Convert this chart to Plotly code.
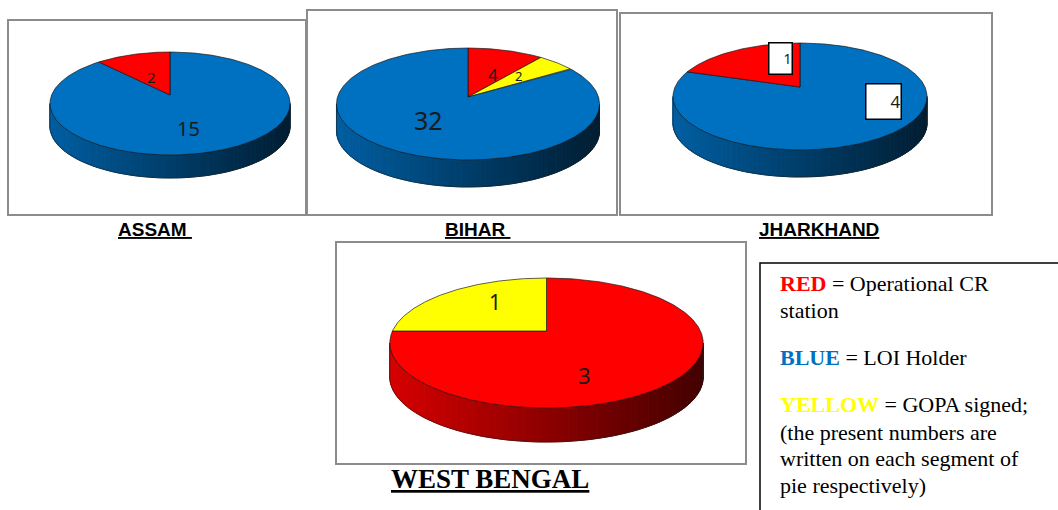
import numpy as np
import plotly.graph_objects as go

# ---------------- data ----------------
states = ["ASSAM", "BIHAR", "JHARKHAND", "WEST BENGAL"]
assam_cats = ["BLUE", "RED"]
assam_vals = [15, 2]
bihar_cats = ["RED", "YELLOW", "BLUE"]
bihar_vals = [4, 2, 32]
jharkhand_cats = ["BLUE", "RED"]
jharkhand_vals = [4, 1]
wb_cats = ["RED", "YELLOW"]
wb_vals = [3, 1]

legend_keys = ["RED", "BLUE", "YELLOW"]
legend_desc = ["Operational CR station", "LOI Holder", "GOPA signed"]

# ---------------- style ----------------
W, H = 1058, 510
colors = {"RED": (255, 0, 0), "BLUE": (0, 112, 192), "YELLOW": (255, 255, 0)}
txt_colors = {"RED": "#ff0000", "BLUE": "#0070c0", "YELLOW": "#ffff00"}

# cx, ya: projected centre; rx: half-width of the centre chord; R: vertical radius; e: perspective
pies = [
    dict(cats=assam_cats, vals=assam_vals, cx=170, ya=95, rx=118.4, R=50.1, e=0.165, depth=23,
         box=(8, 20, 306, 215), title_xy=(155, 229), boxed=False,
         lab=[dict(size=20, dx=-5, dy=8), dict(size=15, dx=1, dy=4)]),
    dict(cats=bihar_cats, vals=bihar_vals, cx=468, ya=97, rx=130.5, R=55.1, e=0.125, depth=27,
         box=(307, 10, 617, 215), title_xy=(477, 229), boxed=False,
         lab=[dict(size=17, dx=5, dy=2), dict(size=13, dx=4, dy=-3), dict(size=25, dx=-7, dy=-3)]),
    dict(cats=jharkhand_cats, vals=jharkhand_vals, cx=800, ya=87, rx=125, R=51.8, e=0.1776, depth=27,
         box=(620, 13, 992, 215), title_xy=(819, 229), boxed=True,
         lab=[dict(size=17, dx=44, dy=-8, w=34, h=34), dict(size=14, dx=15, dy=-9, w=22, h=30)]),
    dict(cats=wb_cats, vals=wb_vals, cx=546.5, ya=331, rx=154, R=62.8, e=0.1846, depth=34,
         box=(336, 242, 746, 464), title_xy=(490, 479), boxed=False,
         lab=[dict(size=22, dx=-20, dy=20), dict(size=21, dx=0, dy=-8)]),
]


def proj(p, r, th, dy=0.0):
    t = np.radians(th)
    u, v = r * np.sin(t), r * np.cos(t)
    s = 1.0 / (1.0 + p["e"] * v)
    return p["cx"] + p["rx"] * u * s, p["ya"] - p["R"] * v * s + dy


def shade(rgb, f):
    return "rgb(%d,%d,%d)" % tuple(int(round(c * f)) for c in rgb)


fig = go.Figure()
shapes = []
annotations = []

for p in pies:
    vals = np.array(p["vals"], dtype=float)
    ang = np.concatenate([[0], np.cumsum(vals) / vals.sum() * 360])

    def cat_at(th):
        th = th % 360
        for i in range(len(vals)):
            if ang[i] <= th < ang[i + 1]:
                return p["cats"][i]
        return p["cats"][-1]

    # side band (visible front part) with a horizontal gradient
    a0 = np.degrees(np.arccos(-p["e"]))
    a1 = 360 - a0
    xmin = proj(p, 1, a1)[0]
    xmax = proj(p, 1, a0)[0]
    N = 70
    edges = np.linspace(a0, a1, N + 1)
    for a, b in zip(edges[:-1], edges[1:]):
        ts = np.linspace(a, b, 4)
        xt, yt = proj(p, 1, ts)
        xb, yb = proj(p, 1, ts[::-1], p["depth"])
        xs = np.concatenate([xt, xb, xt[:1]])
        ys = np.concatenate([yt, yb, yt[:1]])
        xm = proj(p, 1, (a + b) / 2)[0]
        t = (xm - xmin) / (xmax - xmin)
        f = 0.84 - 0.58 * t
        col = shade(colors[cat_at((a + b) / 2)], f)
        fig.add_trace(go.Scatter(x=xs, y=ys, fill="toself", fillcolor=col, mode="lines",
                                 line=dict(color=col, width=1), hoverinfo="skip", showlegend=False))
    # side outline
    ts = np.linspace(a0, a1, 120)
    xb, yb = proj(p, 1, ts, p["depth"])
    xl, yl = proj(p, 1, np.array([a0]))
    xr, yr = proj(p, 1, np.array([a1]))
    fig.add_trace(go.Scatter(x=np.concatenate([xl, xb, xr]),
                             y=np.concatenate([yl, yb, yr]), mode="lines",
                             line=dict(color="rgba(30,30,30,0.7)", width=0.8),
                             hoverinfo="skip", showlegend=False))

    # top face slices
    for i, c in enumerate(p["cats"]):
        ts = np.linspace(ang[i], ang[i + 1], max(8, int((ang[i + 1] - ang[i]) * 1.5)))
        x, y = proj(p, 1, ts)
        xs = np.concatenate([[p["cx"]], x, [p["cx"]]])
        ys = np.concatenate([[p["ya"]], y, [p["ya"]]])
        fig.add_trace(go.Scatter(x=xs, y=ys, fill="toself", fillcolor=shade(colors[c], 1.0),
                                 mode="lines", line=dict(color="rgba(20,20,20,0.85)", width=0.8),
                                 hoverinfo="skip", showlegend=False))

    # value labels
    for i, c in enumerate(p["cats"]):
        mid = (ang[i] + ang[i + 1]) / 2
        L = p["lab"][i]
        lx, ly = proj(p, 0.5, mid)
        ann = dict(x=lx + L["dx"], y=ly + L["dy"], xref="x", yref="y", text=str(p["vals"][i]),
                   showarrow=False,
                   font=dict(family="Noto Sans, Liberation Sans, sans-serif", size=L["size"], color="#1a1a1a"),
                   xanchor="center", yanchor="middle")
        if p["boxed"]:
            ann.update(bgcolor="white", bordercolor="black", borderwidth=1.5,
                       width=L["w"], height=L["h"], align="right", valign="middle", borderpad=0)
        annotations.append(ann)

    # frame
    x0, y0, x1, y1 = p["box"]
    shapes.append(dict(type="rect", xref="x", yref="y", x0=x0, y0=y0, x1=x1, y1=y1,
                       line=dict(color="#8c8c8c", width=2), fillcolor="rgba(0,0,0,0)", layer="below"))

# titles
for name, p in zip(states, pies):
    tx, ty = p["title_xy"]
    if name == "WEST BENGAL":
        font = dict(family="Liberation Serif, Times New Roman, serif", size=27, color="black",
                    weight="bold", lineposition="under")
        text = name
    else:
        font = dict(family="Liberation Sans, Arial, sans-serif", size=19, color="black",
                    weight="bold", lineposition="under")
        text = name + ("\u00a0" if name != "JHARKHAND" else "")
    annotations.append(dict(x=tx, y=ty, xref="x", yref="y", text=text, showarrow=False,
                            font=font, xanchor="center", yanchor="middle"))

# legend box
shapes.append(dict(type="rect", xref="x", yref="y", x0=760, y0=263, x1=1062, y1=515,
                   line=dict(color="black", width=1.5), fillcolor="rgba(0,0,0,0)"))


def key(k):
    return "<b><span style='color:%s'>%s</span></b>" % (txt_colors[k], k)


legend_lines = [
    (283, key(legend_keys[0]) + " = " + legend_desc[0].rsplit(" ", 1)[0]),
    (310, legend_desc[0].rsplit(" ", 1)[1]),
    (357, key(legend_keys[1]) + " = " + legend_desc[1]),
    (404, key(legend_keys[2]) + " = " + legend_desc[2] + ";"),
    (432, "(the present numbers are"),
    (458, "written on each segment of"),
    (485, "pie respectively)"),
]
for y, t in legend_lines:
    annotations.append(dict(x=778, y=y, xref="x", yref="y", text=t, showarrow=False,
                            xanchor="left", yanchor="middle",
                            font=dict(family="Liberation Serif, Times New Roman, serif", size=22, color="black")))

fig.update_layout(
    width=W, height=H, margin=dict(l=0, r=0, t=0, b=0),
    paper_bgcolor="white", plot_bgcolor="white",
    xaxis=dict(range=[0, W], visible=False, fixedrange=True),
    yaxis=dict(range=[H, 0], visible=False, fixedrange=True),
    shapes=shapes, annotations=annotations, showlegend=False,
)
fig.write_html("out.html", config={"displayModeBar": False},
               post_script="document.body.style.margin='0';document.body.style.overflow='hidden';")
